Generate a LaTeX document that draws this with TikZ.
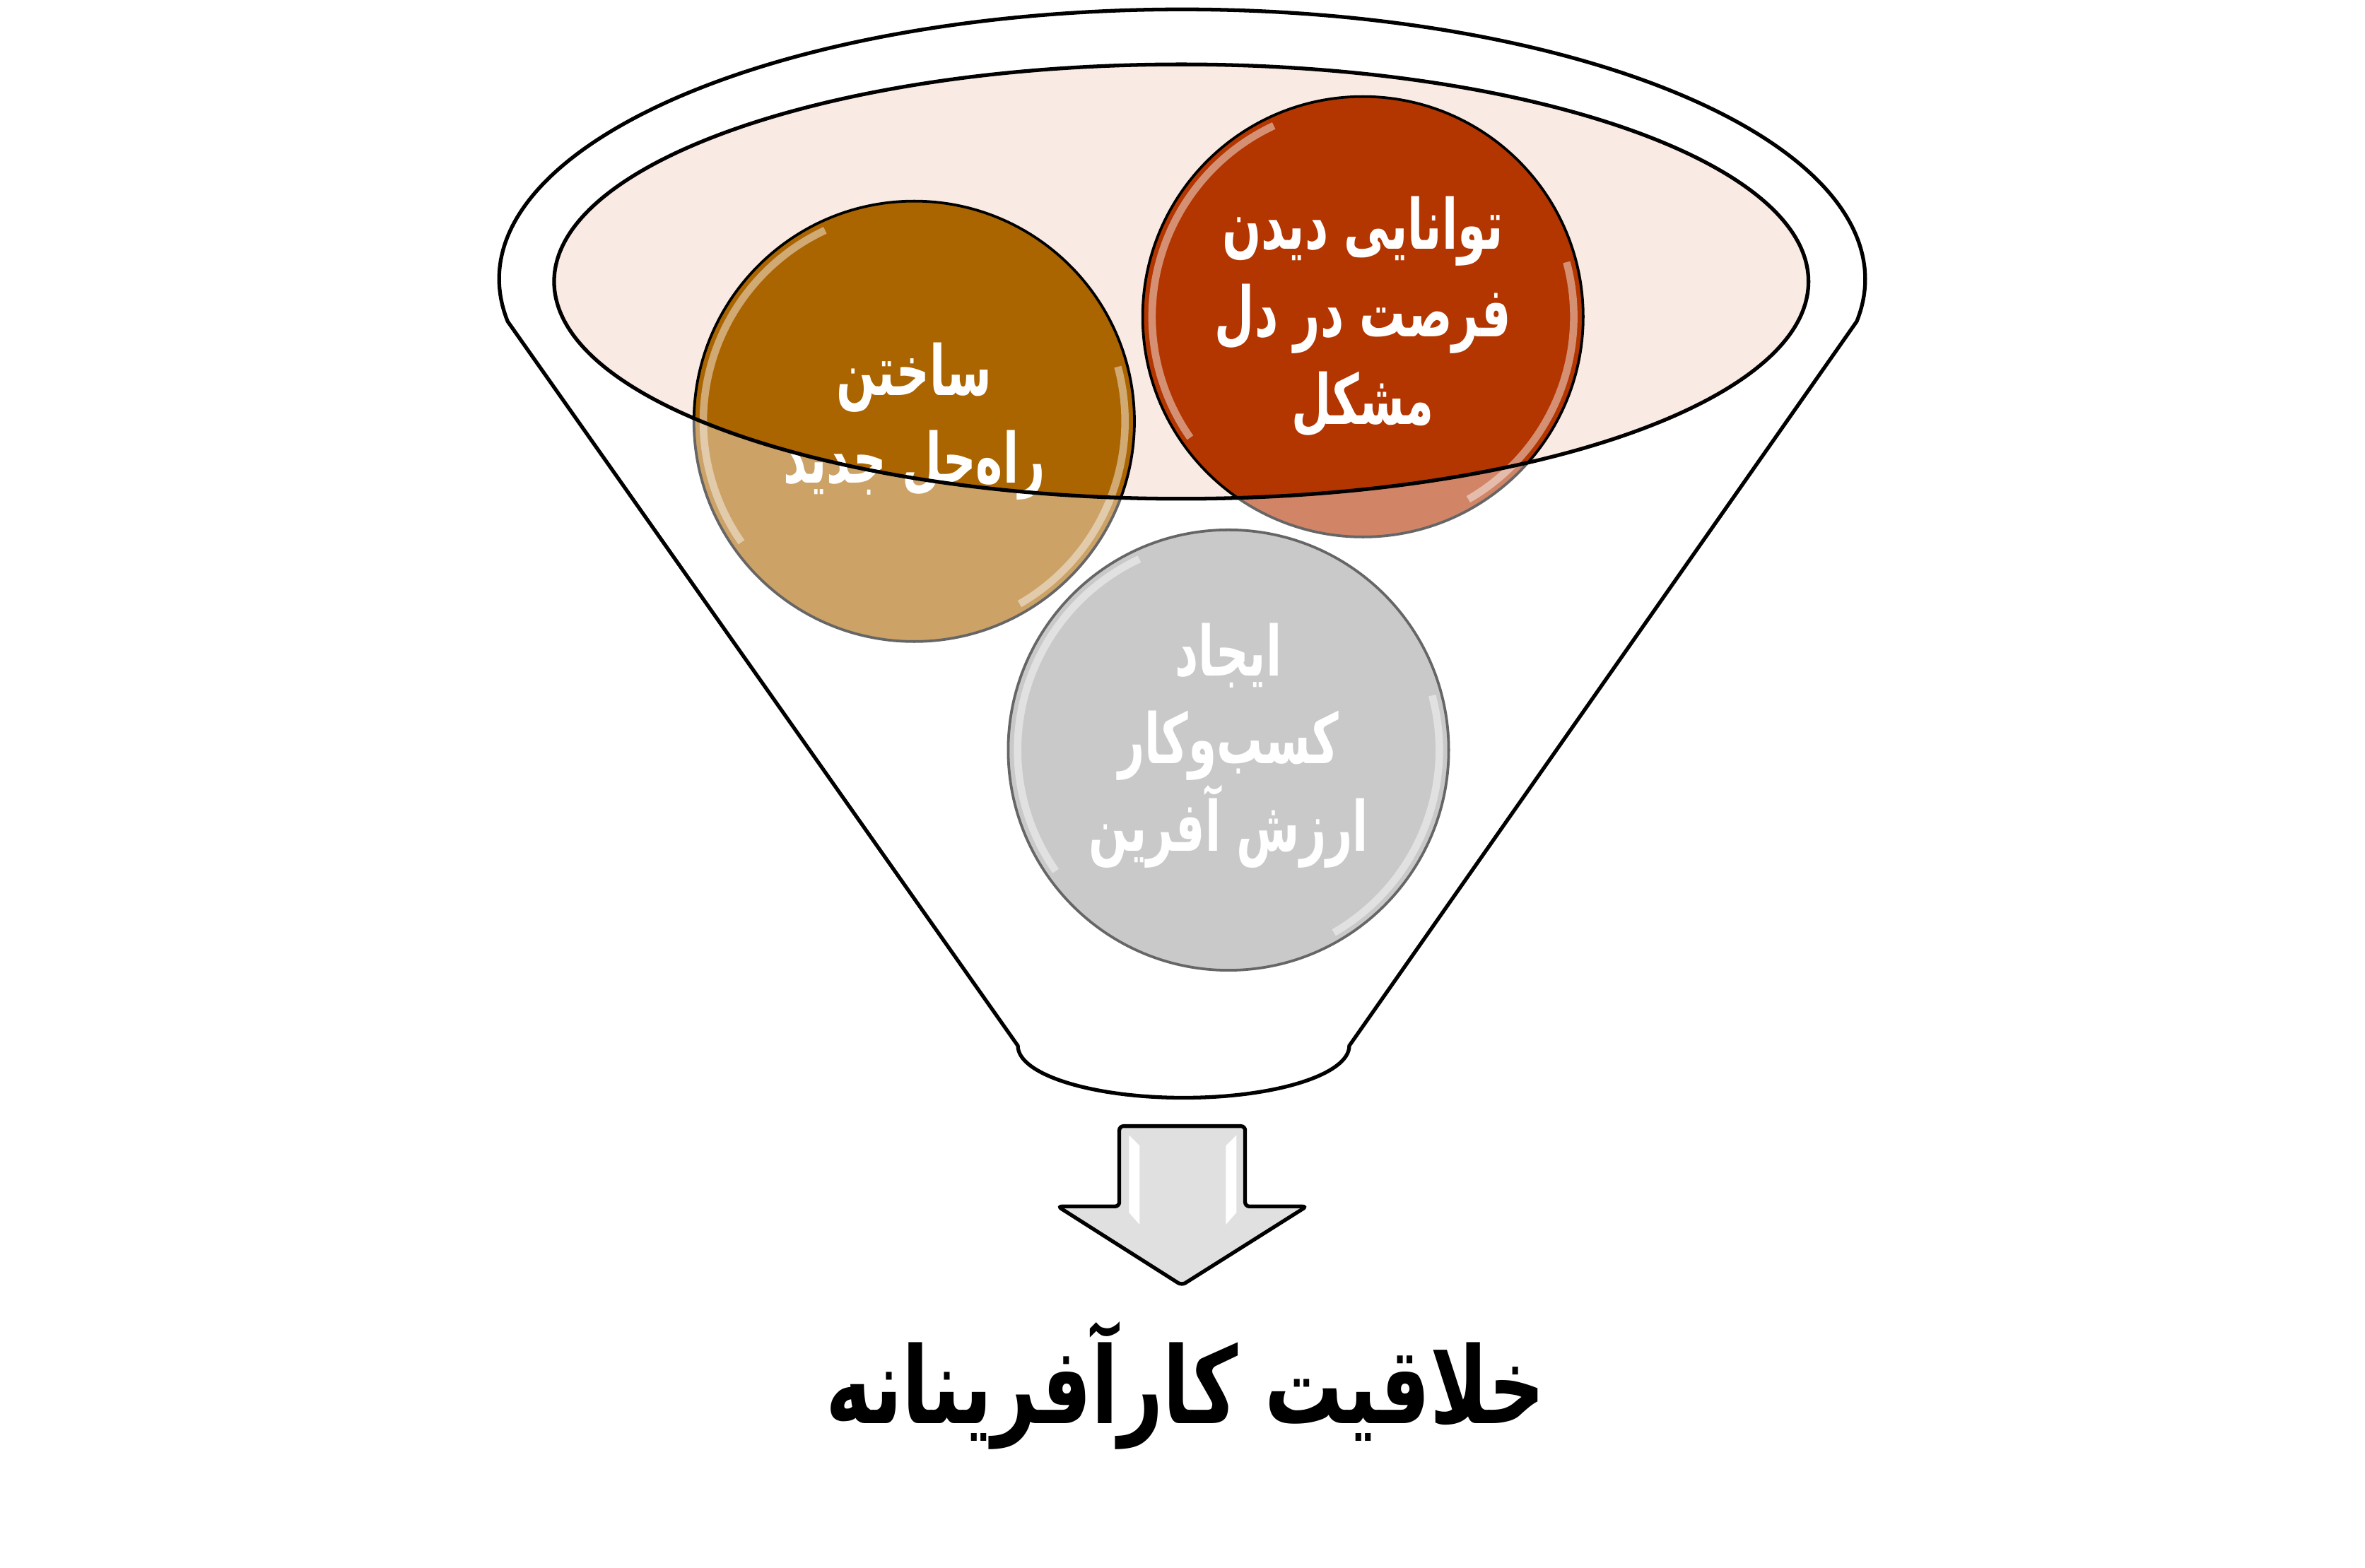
\documentclass[tikz,border=0pt]{standalone}
\usepackage{fontspec}
\newfontfamily\arabicfont[Script=Arabic,FakeStretch=0.66]{DejaVu Sans}
\newfontfamily\titlefont[Script=Arabic,FakeStretch=0.73]{DejaVu Sans}
\TeXXeTstate=1
\definecolor{ellpink}{HTML}{F9EAE3}
\definecolor{bubbleorange}{HTML}{AA6400}
\definecolor{bubblered}{HTML}{B33500}
\definecolor{bubblegrey}{HTML}{A6A6A6}
\definecolor{arrowgrey}{HTML}{E0E0E0}
\begin{document}
\begin{tikzpicture}[x=0.01cm,y=-0.01cm,
	rim/.style={draw=black,line width=0.7pt},
	bubble/.style={circle,draw=black,line width=0.5pt,minimum size=2.904cm,inner sep=0pt},
	bubbletext/.style={text=white,align=center,inner sep=0pt,font=\arabicfont\bfseries\fontsize{13}{16.4}\selectfont},
	gloss/.style={white,opacity=0.45,line width=1.4pt}]
	\useasboundingbox (0,0) rectangle (1560,1034.5);
	% funnel and its mouth
	\draw[rim,fill=white] (334.85,212.05) arc[start angle=171,end angle=369,x radius=450.5,y radius=178] -- (890,690) arc[start angle=0,end angle=180,x radius=109.3,y radius=34.3] -- cycle;
	\fill[ellpink] (779.2,185.8) ellipse[x radius=413.7,y radius=143.3];
	% bubbles
	\node[bubble,fill=bubbleorange] (sakhtan) at (603,278) {};
	\node[bubble,fill=bubblered] (tavanaei) at (899,209) {};
	\node[bubble,fill=bubblegrey] (ijad) at (810.3,494.9) {};
	\foreach \n in {sakhtan,tavanaei,ijad} {
		\draw[gloss] (\n.center) ++(115:1.39cm) arc[start angle=115,end angle=215,radius=1.39cm];
		\draw[gloss] (\n.center) ++(-60:1.39cm) arc[start angle=-60,end angle=15,radius=1.39cm];
	}
	% fade what lies outside the mouth
	\begin{scope}
		\clip (sakhtan.center) circle[radius=1.47cm] (tavanaei.center) circle[radius=1.47cm] (ijad.center) circle[radius=1.47cm];
		\fill[white,fill opacity=0.4,even odd rule] (0,0) rectangle (1560,1034.5) (779.2,185.8) ellipse[x radius=413.7,y radius=143.3];
	\end{scope}
	\node[bubbletext] (sakhtantext) at (sakhtan) {\beginR ساختن\endR\\\beginR راه‌حل جدید\endR};
	\node[bubbletext] (tavanaeitext) at (tavanaei) {\beginR توانایی دیدن\endR\\\beginR فرصت در دل\endR\\\beginR مشکل\endR};
	\node[bubbletext] (ijadtext) at ([yshift=0.03cm]ijad.center) {\beginR ایجاد\endR\\\beginR کسب‌وکار\endR\\\beginR ارزش آفرین\endR};
	\draw[rim] (779.2,185.8) ellipse[x radius=413.7,y radius=143.3];
	% arrow and result
	\draw[rim,fill=arrowgrey,rounded corners=0.8pt] (738.3,743) -- (821.3,743) -- (821.3,796) -- (861.9,796) -- (779.5,848) -- (697.7,796) -- (738.3,796) -- cycle;
	\fill[white] (744.7,749) -- (751.7,756) -- (751.7,808) -- (744.7,800) -- cycle;
	\fill[white] (815.6,749) -- (808.6,756) -- (808.6,808) -- (815.6,800) -- cycle;
	\node[font=\titlefont\bfseries\fontsize{20}{24}\selectfont] (title) at (782,914) {\beginR خلاقیت کارآفرینانه\endR};
\end{tikzpicture}
\end{document}
